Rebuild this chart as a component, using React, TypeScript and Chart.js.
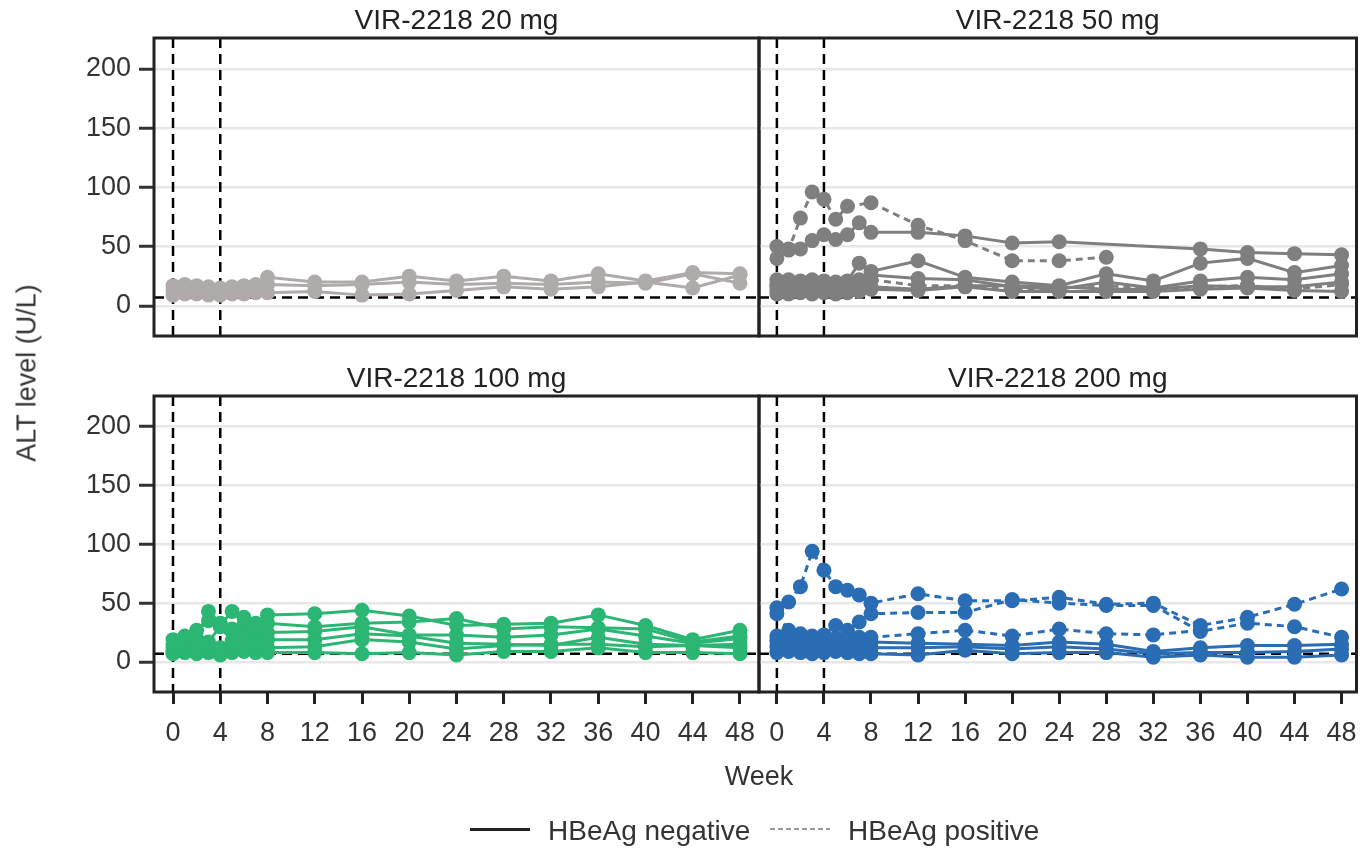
import React, { useEffect, useRef } from "react";
import { Chart, registerables } from "chart.js";

Chart.register(...registerables);

// ---------------- data ----------------
const WEEKS = [0, 1, 2, 3, 4, 5, 6, 7, 8, 12, 16, 20, 24, 28, 32, 36, 40, 44, 48];
const X_TICKS = [0, 4, 8, 12, 16, 20, 24, 28, 32, 36, 40, 44, 48];
const Y_TICKS = [0, 50, 100, 150, 200];
const DOSING_WEEKS = [0, 4];
const ALT_REFERENCE = 7;

const PANEL_TITLES = ["VIR-2218 20 mg", "VIR-2218 50 mg", "VIR-2218 100 mg", "VIR-2218 200 mg"];
const LEGEND_LABELS = ["HBeAg negative", "HBeAg positive"];
const X_TITLE = "Week";
const Y_TITLE = "ALT level (U/L)";

type V = number | null;

// VIR-2218 20 mg
const mg20_neg1: V[] = [17, 18, 17, 16, 15, 16, 17, 18, 24, 20, 20, 25, 21, 25, 21, 27, 21, 28, 27];
const mg20_neg2: V[] = [13, 14, 13, 13, 12, 13, 14, 15, 18, 17, 18, 20, 18, 19, 18, 20, 19, 27, 19];
const mg20_neg3: V[] = [9, 10, 10, 9, 9, 10, 10, 11, 11, 12, 9, 10, 13, 16, 14, 16, 20, 15, 26];

// VIR-2218 50 mg
const mg50_neg1: V[] = [50, 48, 48, 55, 60, 56, 60, 70, 62, 62, 59, 53, 54, null, null, 48, 45, 44, 43];
const mg50_neg2: V[] = [22, 22, 21, 22, 21, 20, 21, 36, 29, 38, 24, 20, 17, 27, 21, 36, 40, 28, 34];
const mg50_neg3: V[] = [18, 19, 20, 20, 19, 18, 19, 22, 26, 23, 22, 16, 14, 20, 15, 21, 24, 22, 27];
const mg50_neg4: V[] = [12, 13, 12, 13, 13, 12, 13, 14, 14, 13, 16, 12, 12, 12, 12, 14, 15, 13, 12];
const mg50_neg5: V[] = [10, 10, 11, 10, 11, 10, 11, 12, 16, 14, 17, 17, 16, 14, 14, 17, 16, 16, 20];
const mg50_pos1: V[] = [40, 47, 74, 96, 90, 73, 84, null, 87, 68, 55, 38, 38, 41, null, null, null, null, null];
const mg50_pos2: V[] = [16, 17, 18, 17, 18, 17, 19, 20, 22, 17, 17, 14, 15, 17, 14, 16, 17, 14, 18];

// VIR-2218 100 mg
const mg100_neg1: V[] = [19, 22, 27, 35, 31, 43, 38, 30, 40, 41, 44, 39, 31, 32, 33, 40, 31, 19, 27];
const mg100_neg2: V[] = [15, 18, 20, 43, 33, 28, 32, 33, 33, 30, 33, 34, 37, 28, 30, 29, 28, 17, 22];
const mg100_neg3: V[] = [12, 13, 15, 17, 30, 18, 22, 26, 25, 26, 30, 23, 23, 21, 23, 28, 22, 16, 20];
const mg100_neg4: V[] = [10, 12, 11, 13, 12, 14, 16, 17, 19, 19, 24, 22, 16, 15, 14, 21, 15, 14, 15];
const mg100_neg5: V[] = [8, 9, 10, 11, 10, 9, 11, 12, 12, 13, 19, 17, 11, 14, 15, 15, 13, 14, 12];
const mg100_neg6: V[] = [7, 8, 7, 8, 6, 8, 9, 8, 8, 8, 7, 8, 6, 9, 9, 12, 8, 8, 7];

// VIR-2218 200 mg
const mg200_neg1: V[] = [18, 20, 18, 17, 19, 20, 19, 18, 17, 16, 15, 14, 17, 15, 9, 12, 14, 14, 15];
const mg200_neg2: V[] = [13, 14, 12, 12, 13, 14, 12, 13, 12, 12, 13, 11, 13, 11, 7, 8, 8, 9, 11];
const mg200_neg3: V[] = [8, 9, 8, 7, 8, 9, 8, 7, 7, 6, 10, 7, 8, 8, 4, 6, 4, 4, 6];
const mg200_pos1: V[] = [46, 51, 64, 94, 78, 64, 61, 57, 50, 58, 52, 52, 55, 49, 50, 31, 38, 49, 62];
const mg200_pos2: V[] = [41, 27, 24, 22, 23, 31, 27, 34, 41, 42, 42, 53, 50, 48, 48, 26, 33, 30, 21];
const mg200_pos3: V[] = [22, 24, 20, 21, 22, 20, 23, 21, 21, 24, 27, 22, 28, 24, 23, 27, null, null, null];

const MG20_NEG = [mg20_neg1, mg20_neg2, mg20_neg3];
const MG20_POS: V[][] = [];
const MG50_NEG = [mg50_neg1, mg50_neg2, mg50_neg3, mg50_neg4, mg50_neg5];
const MG50_POS = [mg50_pos1, mg50_pos2];
const MG100_NEG = [mg100_neg1, mg100_neg2, mg100_neg3, mg100_neg4, mg100_neg5, mg100_neg6];
const MG100_POS: V[][] = [];
const MG200_NEG = [mg200_neg1, mg200_neg2, mg200_neg3];
const MG200_POS = [mg200_pos1, mg200_pos2, mg200_pos3];

// ---------------- layout & style ----------------
const W = 1364;
const H = 848;
const LEFT = 154;
const MID = 759;
const RIGHT = 1361;
const ROW_TOP = [38, 396];
const ROW_BOTTOM = [336, 692];
const X_AXIS_H = 60;
const X_RANGE = [
  [-1.61, 49.61],
  [-1.52, 49.27],
];
const Y_RANGE = [-25.5, 226];
const FONT = "'Liberation Sans', Arial, Helvetica, sans-serif";
const FONT_SIZE = 27;
const TITLE_SIZE = 28;
const TEXT_COLOR = "#333333";

const PANELS = [
  { title: PANEL_TITLES[0], neg: MG20_NEG, pos: MG20_POS, color: "#afabaa", col: 0, row: 0 },
  { title: PANEL_TITLES[1], neg: MG50_NEG, pos: MG50_POS, color: "#7f7f7f", col: 1, row: 0 },
  { title: PANEL_TITLES[2], neg: MG100_NEG, pos: MG100_POS, color: "#2bb673", col: 0, row: 1 },
  { title: PANEL_TITLES[3], neg: MG200_NEG, pos: MG200_POS, color: "#2a6db5", col: 1, row: 1 },
];

const panelDecor = {
  id: "panelDecor",
  beforeDatasetsDraw(chart: any) {
    const { ctx, chartArea: a, scales } = chart;
    const x = scales.x;
    const y = scales.y;
    ctx.save();
    ctx.strokeStyle = "#000";
    ctx.lineWidth = 2.5;
    ctx.setLineDash([10, 6]);
    for (const w of DOSING_WEEKS) {
      const px = x.getPixelForValue(w);
      ctx.beginPath();
      ctx.moveTo(px, a.top);
      ctx.lineTo(px, a.bottom);
      ctx.stroke();
    }
    const py = y.getPixelForValue(ALT_REFERENCE);
    ctx.beginPath();
    ctx.moveTo(a.left, py);
    ctx.lineTo(a.right, py);
    ctx.stroke();
    ctx.restore();
  },
  afterDraw(chart: any, _args: any, opts: any) {
    const { ctx, chartArea: a } = chart;
    ctx.save();
    ctx.strokeStyle = "#222";
    ctx.lineWidth = 3;
    ctx.setLineDash([]);
    ctx.strokeRect(a.left, a.top, a.right - a.left, a.bottom - a.top);
    ctx.fillStyle = "#222";
    ctx.font = `${TITLE_SIZE}px ${FONT}`;
    ctx.textAlign = "center";
    ctx.textBaseline = "middle";
    ctx.fillText(opts.title, (a.left + a.right) / 2, a.top - 17);
    ctx.restore();
  },
};

function makeDataset(vals: V[], dashed: boolean, color: string) {
  return {
    data: WEEKS.map((w, i) => ({ x: w, y: vals[i] })).filter((p) => p.y !== null),
    borderColor: color,
    backgroundColor: color,
    pointBackgroundColor: color,
    borderWidth: 3,
    borderDash: dashed ? [7, 5] : [],
    pointRadius: 7.5,
    pointHoverRadius: 7.5,
    pointBorderWidth: 0,
    tension: 0,
    fill: false,
    showLine: true,
  };
}

function Panel({ p }: { p: (typeof PANELS)[number] }) {
  const ref = useRef<HTMLCanvasElement>(null);
  useEffect(() => {
    if (!ref.current) return;
    const isLeft = p.col === 0;
    const isBottom = p.row === 1;
    const tickFont = { family: FONT, size: FONT_SIZE };
    const chart = new Chart(ref.current, {
      type: "line",
      data: {
        datasets: [
          ...p.neg.map((v) => makeDataset(v, false, p.color)),
          ...p.pos.map((v) => makeDataset(v, true, p.color)),
        ],
      },
      options: {
        responsive: false,
        animation: false,
        devicePixelRatio: 1,
        events: [],
        layout: {
          padding: {
            left: isLeft ? 0 : MID,
            right: W - (isLeft ? MID : RIGHT),
            top: ROW_TOP[p.row],
            bottom: H - ROW_BOTTOM[p.row] - (isBottom ? X_AXIS_H : 0),
          },
        },
        plugins: {
          legend: { display: false },
          tooltip: { enabled: false },
          title: { display: false },
          panelDecor: { title: p.title },
        } as any,
        scales: {
          x: {
            type: "linear",
            min: X_RANGE[p.col][0],
            max: X_RANGE[p.col][1],
            display: isBottom,
            afterBuildTicks: (s: any) => {
              s.ticks = X_TICKS.map((v) => ({ value: v }));
            },
            afterFit: (s: any) => {
              if (isBottom) s.height = X_AXIS_H;
              s.paddingLeft = 0;
              s.paddingRight = 0;
            },
            border: { display: false },
            grid: {
              drawOnChartArea: false,
              drawTicks: true,
              tickLength: 12,
              tickWidth: 3,
              tickColor: "#222",
              color: "#222",
              lineWidth: 3,
            },
            ticks: {
              font: tickFont,
              color: TEXT_COLOR,
              padding: 13,
              maxRotation: 0,
              autoSkip: false,
            },
          },
          y: {
            type: "linear",
            min: Y_RANGE[0],
            max: Y_RANGE[1],
            afterBuildTicks: (s: any) => {
              s.ticks = Y_TICKS.map((v) => ({ value: v }));
            },
            afterFit: (s: any) => {
              s.width = isLeft ? LEFT : 0;
              s.paddingTop = 0;
              s.paddingBottom = 0;
            },
            border: { display: false },
            grid: {
              color: "#e8e8e8",
              lineWidth: 2.5,
              drawTicks: isLeft,
              tickLength: 15,
              tickWidth: 3,
              tickColor: "#333",
            },
            ticks: {
              display: isLeft,
              font: tickFont,
              color: TEXT_COLOR,
              padding: 8,
            },
          },
        },
      } as any,
      plugins: [panelDecor],
    });
    return () => chart.destroy();
  }, [p]);
  return (
    <canvas
      ref={ref}
      width={W}
      height={H}
      style={{ position: "absolute", left: 0, top: 0, width: W, height: H, pointerEvents: "none" }}
    />
  );
}

export default function App() {
  const text: React.CSSProperties = {
    position: "absolute",
    fontFamily: FONT,
    fontSize: FONT_SIZE,
    color: TEXT_COLOR,
    whiteSpace: "nowrap",
    lineHeight: 1.15,
  };
  return (
    <div style={{ position: "absolute", left: 0, top: 0, width: W, height: H, background: "#fff", overflow: "hidden" }}>
      {PANELS.map((p) => (
        <Panel key={p.title} p={p} />
      ))}
      <div style={{ ...text, left: 26.5, top: 372.5, transform: "translate(-50%, -50%) rotate(-90deg)" }}>{Y_TITLE}</div>
      <div style={{ ...text, left: 759, top: 777, transform: "translate(-50%, -50%)" }}>{X_TITLE}</div>
      <div style={{ position: "absolute", left: 470, top: 828, width: 60, height: 3, background: "#222" }} />
      <div style={{ ...text, fontSize: TITLE_SIZE, left: 548, top: 831, transform: "translate(0, -50%)" }}>{LEGEND_LABELS[0]}</div>
      <svg style={{ position: "absolute", left: 770, top: 821 }} width={60} height={16}>
        <line x1={0} y1={8} x2={60} y2={8} stroke="#9a9a9a" strokeWidth={2} strokeDasharray="5 3" />
      </svg>
      <div style={{ ...text, fontSize: TITLE_SIZE, left: 848, top: 831, transform: "translate(0, -50%)" }}>{LEGEND_LABELS[1]}</div>
    </div>
  );
}
